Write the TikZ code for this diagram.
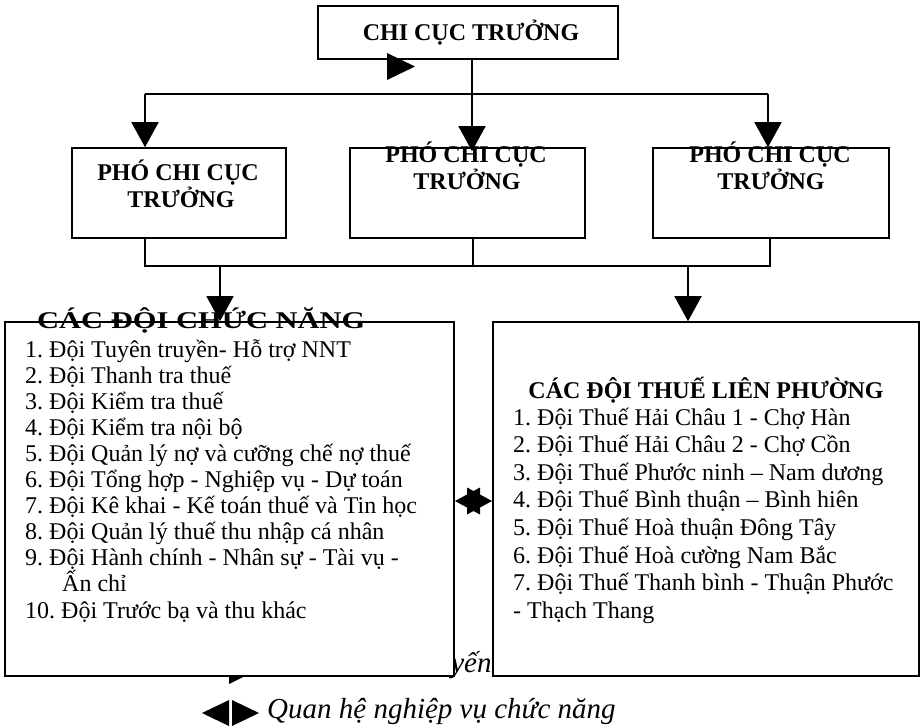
\documentclass[tikz,border=0pt]{standalone}
\usepackage{fontspec}
\setmainfont{Liberation Serif}
\usetikzlibrary{arrows.meta}
\frenchspacing
\begin{document}
\begin{tikzpicture}[x=1pt,y=-1pt,
  box/.style={draw,line width=1.6pt,fill=white,inner sep=0pt},
  ln/.style={line width=1.6pt},
  arr/.style={line width=1.6pt,-{Triangle[width=27pt,length=25pt]}},
  hd/.style={font=\fontsize{24}{27}\selectfont\bfseries,inner sep=0pt},
  itm/.style={font=\fontsize{24}{26}\selectfont,anchor=base west,inner sep=0pt},
  lg/.style={font=\fontsize{29}{33}\selectfont\itshape,anchor=base west,inner sep=0pt}]
\useasboundingbox (0,0) rectangle (923,726);

% legend (partly hidden behind boxes)
\fill (229,657) -- (256,670.5) -- (229,684) -- cycle;
\node[lg] (lg1) at (267,672) {Quan hệ trực tuyến};
\fill (202,713) -- (229,700) -- (229,726) -- cycle;
\fill (259,713) -- (232,700) -- (232,726) -- cycle;
\node[lg] (lg2) at (267,718) {Quan hệ nghiệp vụ chức năng};

% top box
\node[box,minimum width=300pt,minimum height=53pt] (top) at (468,32.5) {};
\node[hd] (toptext) at (471,33) {CHI CỤC TRƯỞNG};
\fill (387,53) -- (415,66.5) -- (387,80) -- cycle;

% deputy boxes
\node[box,minimum width=214pt,minimum height=90pt] (p1) at (179,193) {};
\node[box,minimum width=235pt,minimum height=90pt] (p2) at (467.5,193) {};
\node[box,minimum width=236pt,minimum height=90pt] (p3) at (771,193) {};

\coordinate (hl) at (145,94);
\coordinate (hm) at (472,94);
\coordinate (hr) at (768,94);
\draw[ln] (top.south -| hm) -- (hm);
\draw[ln] (hl) -- (hr);
\draw[arr] (hl) -- (hl |- p1.north);
\draw[arr] (hm) -- ([yshift=-4pt]hm |- p2.north);
\draw[arr] (hr) -- (hr |- p3.north);

\node[hd,anchor=base] (p1a) at (178,180) {PHÓ CHI CỤC};
\node[hd,anchor=base] (p1b) at (181,207) {TRƯỞNG};
\node[hd,anchor=base] (p2a) at (466,162) {PHÓ CHI CỤC};
\node[hd,anchor=base] (p2b) at (467,189) {TRƯỞNG};
\node[hd,anchor=base] (p3a) at (770,162) {PHÓ CHI CỤC};
\node[hd,anchor=base] (p3b) at (771,189) {TRƯỞNG};

% big boxes
\node[box,minimum width=449pt,minimum height=354pt] (L) at (229.5,499) {};
\node[box,minimum width=426pt,minimum height=354pt] (R) at (706,499) {};

\coordinate (b1) at (145,266);
\coordinate (b2) at (473,266);
\coordinate (b3) at (770,266);
\draw[ln] (b1 |- p1.south) -- (b1) -- (b3) -- (b3 |- p3.south);
\draw[ln] (b2 |- p2.south) -- (b2);
\coordinate (bl) at (220,266);
\coordinate (br) at (688,266);
\draw[arr] (bl) -- (bl |- L.north);
\draw[arr] (br) -- (br |- R.north);

% relation star between boxes
\fill (455,501) -- (480,487.5) -- (480,514.5) -- cycle;
\fill (492,501) -- (467,487.5) -- (467,514.5) -- cycle;

% left list
\node[hd,anchor=base west] (Lt) at (37,328) {\scalebox{1.27}[1]{CÁC ĐỘI CHỨC NĂNG}};
\foreach \t [count=\i from 0] in {1. Đội Tuyên truyền- Hỗ trợ NNT,
  2. Đội Thanh tra thuế,
  3. Đội Kiểm tra thuế,
  4. Đội Kiểm tra nội bộ,
  5. Đội Quản lý nợ và cưỡng chế nợ thuế,
  6. Đội Tổng hợp - Nghiệp vụ - Dự toán,
  7. Đội Kê khai - Kế toán thuế và Tin học,
  8. Đội Quản lý thuế thu nhập cá nhân,
  9. Đội Hành chính - Nhân sự - Tài vụ -}
  \node[itm] (l\i) at (25,357+26.1*\i) {\t};
\node[itm] (l9) at (62,357+26.1*9) {Ấn chỉ};
\node[itm] (l10) at (25,357+26.1*10) {10. Đội Trước bạ và thu khác};

% right list
\node[hd,anchor=base] (Rt) at (706,398) {CÁC ĐỘI THUẾ LIÊN PHƯỜNG};
\foreach \t [count=\i from 0] in {1. Đội Thuế Hải Châu 1 - Chợ Hàn,
  2. Đội Thuế Hải Châu 2 - Chợ Cồn,
  3. Đội Thuế Phước ninh – Nam dương,
  4. Đội Thuế Bình thuận – Bình hiên,
  5. Đội Thuế Hoà thuận Đông Tây,
  6. Đội Thuế Hoà cường Nam Bắc,
  7. Đội Thuế Thanh bình - Thuận Phước,
  - Thạch Thang}
  \node[itm] (r\i) at (513,425+27.6*\i) {\t};
\end{tikzpicture}
\end{document}
